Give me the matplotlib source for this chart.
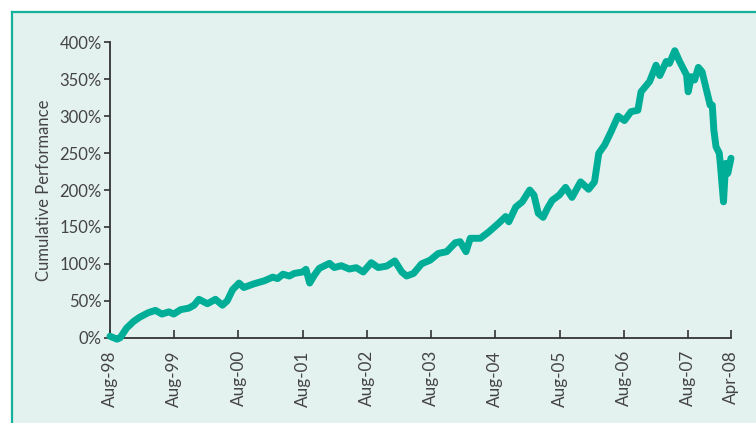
import matplotlib
matplotlib.use("Agg")
import matplotlib.pyplot as plt
from matplotlib.patches import Rectangle
from matplotlib.lines import Line2D

# Months since Aug-98 and cumulative performance (%)
months = [0.0, 1.3, 1.9, 3.1, 4.4, 5.6, 7.2, 8.5, 9.7, 11.0,
          11.9, 13.2, 14.7, 15.7, 16.6, 18.2, 19.7, 21.0, 21.9, 22.9,
          24.1, 25.0, 26.9, 28.8, 30.4, 31.3, 32.3, 33.5, 34.4, 36.0,
          36.6, 37.3, 38.2, 39.1, 41.0, 41.9, 43.2, 44.7, 46.0, 47.3,
          48.8, 50.1, 51.7, 53.2, 54.5, 55.4, 56.7, 58.2, 59.8, 61.3,
          62.9, 64.5, 65.4, 66.5, 67.3, 69.2, 70.8, 72.6, 73.9, 74.5,
          75.8, 77.0, 78.4, 79.2, 80.0, 80.9, 81.7, 82.6, 83.9, 85.1,
          86.3, 87.9, 89.4, 90.5, 91.3, 92.4, 93.6, 94.9, 96.1, 97.3,
          98.6, 99.2, 100.8, 102.0, 102.7, 103.9, 104.5, 105.5, 106.4, 107.7,
          108.0, 108.6, 109.2, 109.9, 110.6, 111.5, 112.1, 112.5, 112.8, 113.2,
          113.8, 114.0, 114.6, 115.0, 115.4, 116.0]
performance = [2, -2, 0, 13, 22, 28, 34, 37, 32, 35,
               32, 38, 40, 44, 52, 46, 52, 44, 50, 65,
               74, 68, 73, 77, 82, 80, 86, 83.5, 87, 89,
               92.6, 74, 85, 94, 100.7, 95, 97.5, 93, 94.8, 89,
               101.6, 95, 97, 104, 89, 83.5, 87, 100, 105, 114,
               116.5, 128.6, 130, 116.5, 134.6, 134.6, 143.5, 155, 164, 157,
               177, 184, 200, 193, 168.5, 163, 175, 186, 193, 203.6,
               190, 211, 201, 211, 249.7, 261, 279, 300, 294, 306,
               308, 333, 347, 369, 355, 374, 371.5, 388.6, 374, 355.7,
               333, 353.4, 349, 366, 360, 333, 315, 315, 281, 258.6,
               250, 236, 184, 236, 222.6, 243]

tick_positions = [0, 12, 24, 36, 48, 60, 72, 84, 96, 108, 116]
tick_labels = ["Aug-98", "Aug-99", "Aug-00", "Aug-01", "Aug-02", "Aug-03",
               "Aug-04", "Aug-05", "Aug-06", "Aug-07", "Apr-08"]
y_ticks = [0, 50, 100, 150, 200, 250, 300, 350, 400]

plt.rcParams['font.family'] = ['Lato', 'DejaVu Sans']

fig = plt.figure(figsize=(7.56, 4.23), dpi=100)
fig.patch.set_facecolor('white')

W, H = 756, 423
bg = Rectangle((11.5 / W, -0.05), 1.1, 1 - 12.5 / H + 0.05, transform=fig.transFigure,
               facecolor='#E4F2EF', edgecolor='none', zorder=-2)
fig.patches.append(bg)
fig.lines.append(Line2D([11.5 / W, 11.5 / W], [0, 1 - 12.5 / H], transform=fig.transFigure,
                        color='#13B29D', lw=1.6, zorder=-1))
fig.lines.append(Line2D([11.5 / W, 1.0], [1 - 12.5 / H, 1 - 12.5 / H], transform=fig.transFigure,
                        color='#13B29D', lw=1.6, zorder=-1))

ax = fig.add_axes([110 / W, 1 - 337.7 / H, (731 - 110) / W, (337.7 - 42.3) / H])
ax.set_zorder(5)
ax.set_facecolor('none')
ax.plot(months, performance, color='#00AE98', lw=5.0, solid_joinstyle='round',
        solid_capstyle='round', clip_on=False, zorder=3)

txt_color = '#444444'
ax.set_xlim(0, 116)
ax.set_ylim(0, 400)
ax.set_xticks(tick_positions)
ax.set_xticklabels(tick_labels, rotation=90, fontsize=12.3, color=txt_color)
ax.set_yticks(y_ticks)
ax.set_yticklabels([f"{v}%" for v in y_ticks], fontsize=12, color=txt_color)
ax.set_ylabel("Cumulative Performance", fontsize=12, color=txt_color, labelpad=5)

for s in ['top', 'right']:
    ax.spines[s].set_visible(False)
for s in ['left', 'bottom']:
    ax.spines[s].set_color('#333333')
    ax.spines[s].set_linewidth(1.3)
ax.tick_params(axis='x', direction='in', length=5.5, width=1.2, color='#333333', pad=9)
ax.tick_params(axis='y', direction='out', length=4, width=1.2, color='#333333', pad=2)

fig.savefig("out.png", dpi=100, facecolor=fig.get_facecolor())
